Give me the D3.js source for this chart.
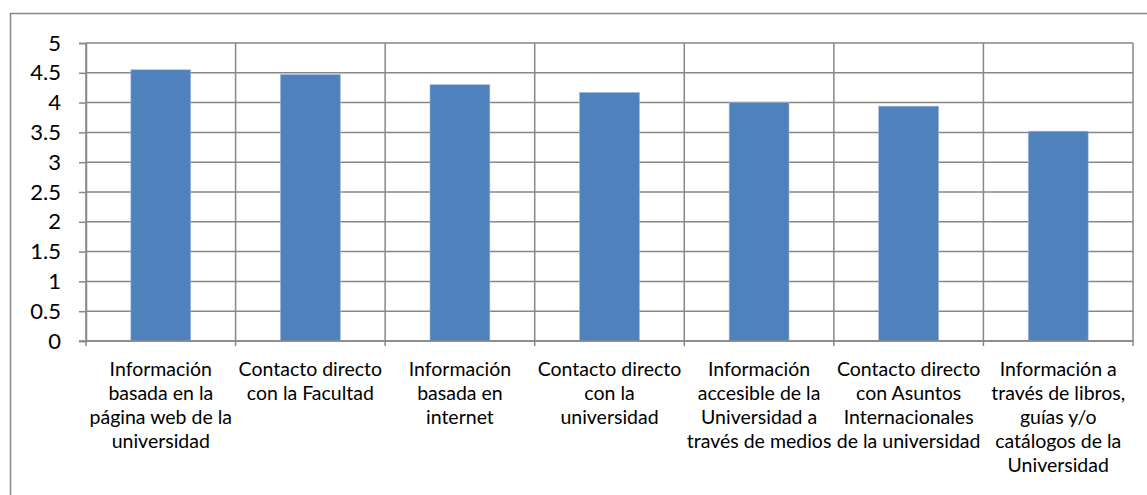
<!DOCTYPE html>
<html><head><meta charset="utf-8">
<script src="https://cdn.jsdelivr.net/npm/d3@7"></script>
<style>body{margin:0;background:#fff}svg{display:block}</style>
</head><body>
<script>
const categories = [
  ["Información","basada en la","página web de la","universidad"],
  ["Contacto directo","con la Facultad"],
  ["Información","basada en","internet"],
  ["Contacto directo","con la","universidad"],
  ["Información","accesible de la","Universidad a","través de medios"],
  ["Contacto directo","con Asuntos","Internacionales","de la universidad"],
  ["Información a","través de libros,","guías y/o","catálogos de la","Universidad"]
];
const values = [4.55, 4.47, 4.3, 4.17, 4.0, 3.94, 3.52];
const yTicks = [0,0.5,1,1.5,2,2.5,3,3.5,4,4.5,5];

const W=1147,H=495;
const m={left:86,right:1133,top:43,bottom:341};
const font="Lato, 'Noto Sans', sans-serif";
const svg=d3.select("body").append("svg").attr("width",W).attr("height",H);

svg.append("path").attr("d",`M10.5,${H+2}V13.5H${W+2}`).attr("fill","none").attr("stroke","#888").attr("stroke-width",1.5);

const x=d3.scaleBand().domain(d3.range(categories.length)).range([m.left,m.right]).padding(0);
const y=d3.scaleLinear().domain([0,5]).range([m.bottom,m.top]);
const grid="#878787";

svg.append("g").selectAll("line").data(yTicks).join("line")
  .attr("x1",m.left).attr("x2",m.right).attr("y1",d=>y(d)).attr("y2",d=>y(d))
  .attr("stroke",grid).attr("stroke-width",1.5);
const bounds=d3.range(categories.length+1).map(i=>m.left+i*x.step());
svg.append("g").selectAll("line").data(bounds).join("line")
  .attr("x1",d=>d).attr("x2",d=>d).attr("y1",m.top).attr("y2",m.bottom+5)
  .attr("stroke",grid).attr("stroke-width",1.5);

const bw=x.bandwidth()*0.4;
svg.append("g").selectAll("rect").data(values).join("rect")
  .attr("x",(d,i)=>x(i)+x.bandwidth()/2-bw/2).attr("width",bw)
  .attr("y",d=>y(d)).attr("height",d=>y(0)-y(d))
  .attr("fill","#4f81bd").attr("stroke","#9bb7dd").attr("stroke-width",0.6);

const ya=svg.append("g").attr("transform",`translate(${m.left},0)`)
  .call(d3.axisLeft(y).tickValues(yTicks).tickFormat(d3.format("")).tickSize(7).tickPadding(18));
ya.select(".domain").attr("stroke",grid).attr("stroke-width",1.5);
ya.selectAll(".tick line").attr("stroke",grid).attr("stroke-width",1.5);
ya.selectAll("text").attr("font-family",font).attr("font-size",22).attr("fill","#000");

svg.append("line").attr("x1",m.left-7).attr("x2",m.right).attr("y1",m.bottom).attr("y2",m.bottom).attr("stroke",grid).attr("stroke-width",1.5);

const lab=svg.append("g").selectAll("text").data(categories).join("text")
  .attr("font-family",font).attr("font-size",19.5).attr("fill","#000").attr("text-anchor","middle")
  .attr("x",(d,i)=>x(i)+x.bandwidth()/2).attr("y",376);
lab.selectAll("tspan").data(d=>d).join("tspan")
  .attr("x",function(){return d3.select(this.parentNode).attr("x");})
  .attr("dy",(d,i)=>i?24:0).text(d=>d);
</script>
</body></html>
